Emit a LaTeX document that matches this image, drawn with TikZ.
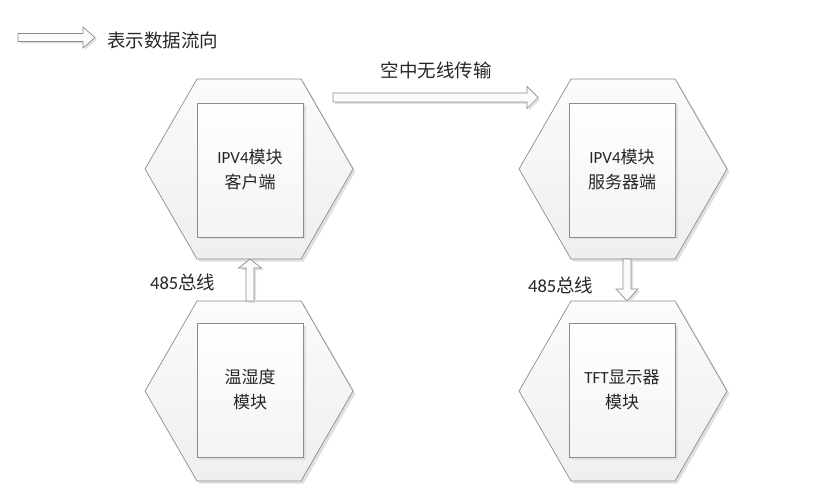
\documentclass[tikz,border=0pt]{standalone}
\usepackage{fontspec}
\setmainfont{Noto Sans CJK SC}
\newfontfamily\lat{Carlito}
\usetikzlibrary{shapes.geometric,shadows,calc}
\definecolor{edge}{HTML}{8C8C8C}
\tikzset{
  softshadow/.style={drop shadow={shadow xshift=2.5pt, shadow yshift=-2.5pt, fill=black!12, opacity=1}},
  hexa/.style={regular polygon, regular polygon sides=6, minimum size=208pt,
    inner sep=0pt, outer sep=0pt, draw=edge, line width=0.7pt,
    top color=gray!3, bottom color=gray!13, softshadow},
  box/.style={rectangle, minimum width=106pt, minimum height=134pt, inner sep=0pt,
    draw=edge, line width=0.7pt, top color=white, bottom color=gray!9,
    align=center, font=\fontsize{17}{25}\selectfont, text=black!85, softshadow},
  flow/.style={draw=edge, line width=0.7pt, fill=gray!3, line join=miter},
  lbl/.style={font=\fontsize{18.5}{22}\selectfont, text=black!85, inner sep=0pt}
}
% outline of a hollow block arrow: tail, tip, shaft half width, head half width
\newcommand\faoutline[4]{($(#1)!#3!90:(#2)$) -- ($(fa-h)!#3!90:(#2)$) -- ($(fa-h)!#4!90:(#2)$) -- (#2) -- ($(fa-h)!#4!-90:(#2)$) -- ($(fa-h)!#3!-90:(#2)$) -- ($(#1)!#3!-90:(#2)$) -- cycle}
% hollow block arrow with a soft shadow: tail, tip, shaft half, head half, head length
\newcommand\flowarrow[5]{%
  \coordinate (fa-h) at ($(#2)!#5!(#1)$);
  \begin{scope}[transform canvas={shift={(2pt,-2pt)}}]
    \fill[black!12] \faoutline{#1}{#2}{#3}{#4};
  \end{scope}
  \path[flow] \faoutline{#1}{#2}{#3}{#4};
}
\begin{document}
\begin{tikzpicture}[x=1pt,y=-1pt]
  \useasboundingbox (0,0) rectangle (831,500);

  % the four modules
  \node[hexa] (hexTL) at (249,169) {};
  \node[hexa] (hexTR) at (623,169) {};
  \node[hexa] (hexBL) at (249,391) {};
  \node[hexa] (hexBR) at (623,391) {};

  \node[box] (boxTL) at (250,170) {{\lat IPV4}模块\\客户端};
  \node[box] (boxTR) at (622,170) {{\lat IPV4}模块\\服务器端};
  \node[box] (boxBL) at (250,390) {温湿度\\模块};
  \node[box] (boxBR) at (622,390) {{\lat TFT}显示器\\模块};

  % legend
  \coordinate (legA) at (18,37.5);
  \coordinate (legB) at (95,37.5);
  \flowarrow{legA}{legB}{4pt}{10.5pt}{12pt}
  \node[lbl, anchor=west] (legT) at (107,40) {表示数据流向};

  % wireless link
  \coordinate (airA) at (333,97.5);
  \coordinate (airB) at (538,97.5);
  \flowarrow{airA}{airB}{4.5pt}{11pt}{11pt}
  \node[lbl] (airT) at (436,70) {空中无线传输};

  % 485 bus links
  \coordinate (upA) at ([xshift=1pt]hexBL.north);
  \coordinate (upB) at ([xshift=1pt]hexTL.south);
  \flowarrow{upA}{upB}{4pt}{11.5pt}{9pt}
  \node[lbl, anchor=west] (busL) at (150,282) {{\lat 485}总线};

  \coordinate (dnA) at ([xshift=4pt]hexTR.south);
  \coordinate (dnB) at ([xshift=4pt]hexBR.north);
  \flowarrow{dnA}{dnB}{4pt}{11pt}{12pt}
  \node[lbl, anchor=west] (busR) at (528,285) {{\lat 485}总线};
\end{tikzpicture}
\end{document}
